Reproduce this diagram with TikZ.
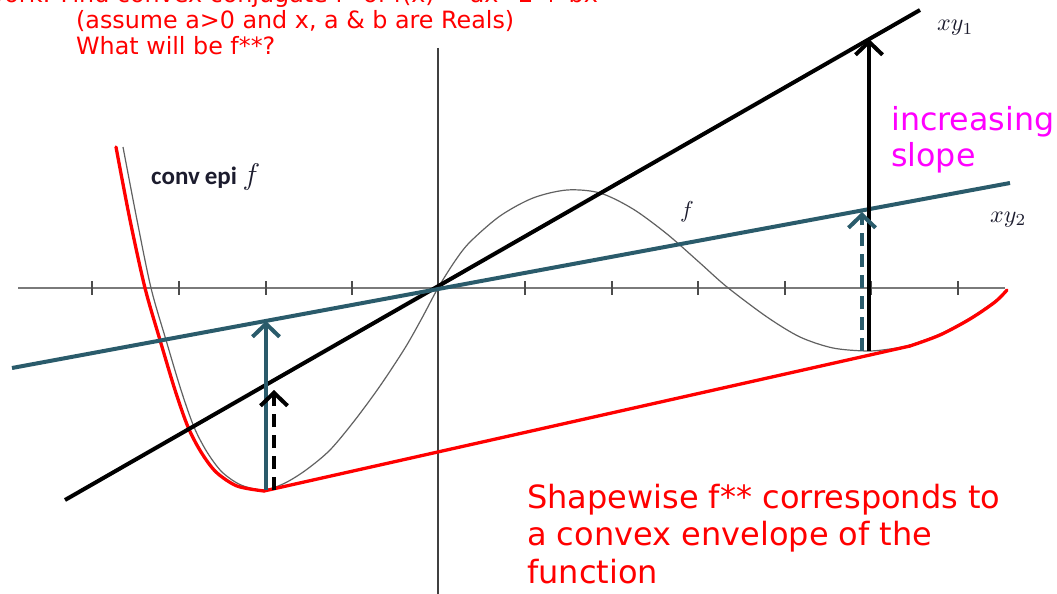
\documentclass[tikz,border=0pt]{standalone}
\usepackage{fontspec}
\setmainfont{DejaVu Sans}
\newfontfamily\carl{Carlito}
\usetikzlibrary{arrows.meta}
\definecolor{tealline}{HTML}{2A5B6B}
\definecolor{axisgray}{HTML}{7A7A7A}
\definecolor{lbl}{HTML}{1C1C2E}
\definecolor{magtxt}{HTML}{FF00FF}
\tikzset{
  axisline/.style={draw=axisgray, line width=1.3pt},
  vaxis/.style={draw=black!75, line width=1.3pt},
  tickmark/.style={draw=black!70, line width=1.2pt},
  fcurve/.style={draw=black!62, line width=1.2pt},
  envelope/.style={draw=red, line width=3.3pt, line cap=round, line join=round},
  blackline/.style={draw=black, line width=4pt},
  tealstroke/.style={draw=tealline, line width=4pt},
  barb/.style={-{Straight Barb[length=13pt,width=27pt]}},
  dashedline/.style={dash pattern=on 13pt off 8pt},
  redtxt/.style={text=red, inner sep=0pt, font=\fontsize{23.8}{26}\selectfont, align=left},
  bigred/.style={text=red, inner sep=0pt, font=\fontsize{32}{37.5}\selectfont, align=left},
  magenta/.style={text=magtxt, inner sep=0pt, font=\fontsize{31.7}{36}\selectfont, align=left},
  mathlbl/.style={text=lbl, inner sep=0pt},
}
\begin{document}
\begin{tikzpicture}[x=1pt,y=-1pt]
\useasboundingbox (0,0) rectangle (1057,594);
\fill[white] (0,0) rectangle (1057,594);

% axes
\coordinate (xl) at (18,288);
\coordinate (xr) at (1005,288);
\coordinate (yt) at (438,48);
\coordinate (yb) at (438,594);
\draw[axisline] (xl) -- (xr);
\draw[vaxis] (yt) -- (yb);
\foreach \tx in {92,179,266,352,525,612,698,785,871,958}{
  \draw[tickmark] (\tx,281) -- (\tx,295);
}

% function f
\draw[fcurve] plot[smooth] coordinates {
 (123,147) (137,220) (151,288) (166,340) (181,390) (194,427) (207,452)
 (222,472) (241,485) (264,490) (285,483) (306,470) (330,450) (355,420)
 (380,386) (405,348) (422,318) (438,288) (455,261) (470,242) (500,216)
 (533,198) (567,190) (600,193) (633,209) (667,234) (700,263) (727,287)
 (767,317) (800,337) (833,348) (867,351) (890,349) (910,345) (940,334)
 (970,318) (995,301) (1007,290)};

% convex envelope f**
\coordinate (e1) at (264,491);
\coordinate (e2) at (910,346);
\draw[envelope] plot[smooth] coordinates {
 (116,147) (130,220) (145,288) (160,340) (175,390) (188,427) (201,452)
 (216,472) (237,486) (264,491)};
\draw[envelope] (e1) -- (e2);
\draw[envelope] plot[smooth] coordinates {
 (910,346) (940,335) (970,319) (995,302) (1007,290)};

% supporting lines
\coordinate (l1a) at (65,500);
\coordinate (l1b) at (920,10);
\coordinate (l2a) at (12,368);
\coordinate (l2b) at (1010,183);
\draw[blackline] (l1a) -- (l1b);
\draw[tealstroke] (l2a) -- (l2b);

% arrows
\coordinate (a1s) at (869,351);
\coordinate (a1e) at (869,39);
\coordinate (a2s) at (862,351);
\coordinate (a2e) at (862,212);
\coordinate (a3s) at (266,490);
\coordinate (a3e) at (266,321);
\coordinate (a4s) at (274,490);
\coordinate (a4e) at (274,390);
\draw[blackline, barb] (a1s) -- (a1e);
\draw[tealstroke, dashedline, barb] (a2s) -- (a2e);
\draw[tealstroke, barb] (a3s) -- (a3e);
\draw[blackline, dashedline, barb] (a4s) -- (a4e);

% labels
\node[redtxt, anchor=base east] (t1) at (598,3) {Homework: Find convex conjugate f* of f(x) = ax\textasciicircum 2 + bx};
\node[redtxt, anchor=base west] (t2) at (76,29) {(assume a>0 and x, a \& b are Reals)};
\node[redtxt, anchor=base west] (t3) at (76,55) {What will be f**?};

\node[magenta, anchor=base west] (inc) at (891,166) {increasing\\slope};

\node[bigred, anchor=base west] (shape) at (527,583) {Shapewise f** corresponds to\\a convex envelope of the\\function};

\node[text=lbl, inner sep=0pt, anchor=base west, font=\carl\bfseries\fontsize{25}{27}\selectfont] (conv) at (151,184) {conv\hspace{0.2em}epi \scalebox{1.2}{$f$}};
\node[mathlbl, anchor=base west] (flbl) at (680,217) {\scalebox{2.3}{$f$}};
\node[mathlbl, anchor=base west] (xy1) at (937,31) {\scalebox{2.4}{$xy_1$}};
\node[mathlbl, anchor=base west] (xy2) at (990,222) {\scalebox{2.4}{$xy_2$}};
\end{tikzpicture}
\end{document}
